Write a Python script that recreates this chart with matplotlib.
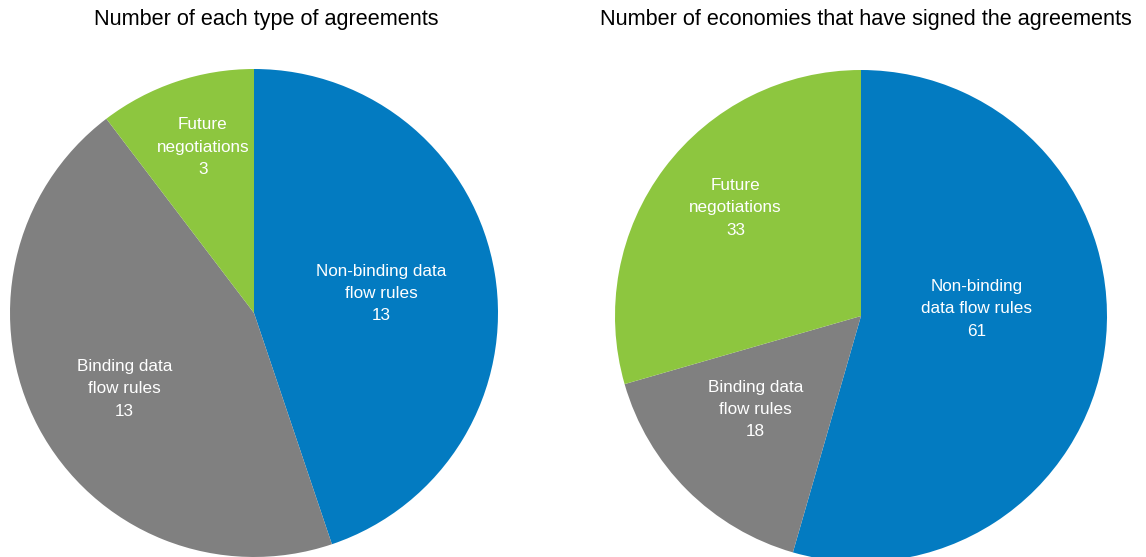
import matplotlib.pyplot as plt

plt.rcParams['font.family'] = ['Liberation Sans', 'DejaVu Sans']

# wedge order: non-binding, binding, future negotiations
agreement_labels = ['Non-binding data\nflow rules', 'Binding data\nflow rules', 'Future\nnegotiations']
economy_labels = ['Non-binding\ndata flow rules', 'Binding data\nflow rules', 'Future\nnegotiations']
agreements = [13, 13, 3]
economies = [61, 18, 33]
colors = ['#037BC1', '#808080', '#8DC63F']

W, H = 1146, 557
fig = plt.figure(figsize=(W / 100, H / 100), dpi=100)
ax = fig.add_axes([0, 0, 1, 1])


def draw_pie(values, labels, center, radius, label_pos, title, title_x):
    ax.pie(values, colors=colors, startangle=90, counterclock=False,
           center=center, radius=radius, wedgeprops=dict(linewidth=0))
    # label_pos: label centres relative to the pie centre, in radius units
    for lab, v, (fx, fy) in zip(labels, values, label_pos):
        ax.text(center[0] + fx * radius, center[1] + fy * radius, f'{lab}\n{v}',
                ha='center', va='center', color='white',
                fontsize=12.3, linespacing=1.62)
    ax.text(title_x, H - 20, title, ha='center', va='center', fontsize=15.6)


draw_pie(agreements, agreement_labels, (254, H - 313), 244,
         [(0.52, 0.08), (-0.53, -0.31), (-0.21, 0.68)],
         'Number of each type of agreements', 266)
draw_pie(economies, economy_labels, (861, H - 316), 246,
         [(0.47, 0.03), (-0.43, -0.38), (-0.51, 0.44)],
         'Number of economies that have signed the agreements', 866)

ax.set_xlim(0, W)
ax.set_ylim(0, H)
ax.set_aspect('equal')
ax.axis('off')

fig.savefig('out.png', dpi=100)
